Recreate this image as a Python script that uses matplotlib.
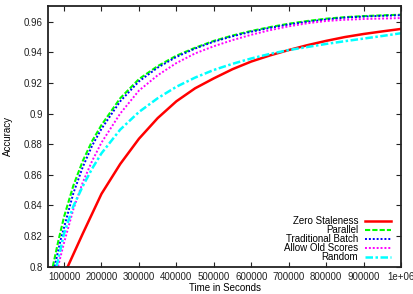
import matplotlib
matplotlib.use('Agg')
import matplotlib.pyplot as plt

plt.rcParams['font.family'] = ['Liberation Sans', 'DejaVu Sans']

# time in seconds / accuracy
t_zero = [110000, 150000, 200000, 250000, 300000, 350000, 400000, 450000, 500000, 550000,
          600000, 650000, 700000, 750000, 800000, 850000, 900000, 950000, 1000000]
acc_zero = [0.800, 0.8215, 0.8475, 0.867, 0.8835, 0.897, 0.908, 0.9165, 0.923, 0.929,
            0.934, 0.938, 0.9415, 0.9447, 0.9475, 0.950, 0.952, 0.9537, 0.9553]

t_par = [70000, 85000, 100000, 125000, 150000, 175000, 200000, 250000, 300000, 350000,
         400000, 450000, 500000, 550000, 600000, 650000, 700000, 750000, 800000, 850000,
         900000, 950000, 1000000]
acc_par = [0.800, 0.817, 0.8325, 0.853, 0.869, 0.882, 0.8925, 0.910, 0.9225, 0.931,
           0.9378, 0.943, 0.9475, 0.951, 0.954, 0.9565, 0.9587, 0.9605, 0.962, 0.963,
           0.9637, 0.9642, 0.9646]

t_batch = [75000, 90000, 100000, 125000, 150000, 175000, 200000, 250000, 300000, 350000,
           400000, 450000, 500000, 550000, 600000, 650000, 700000, 750000, 800000, 850000,
           900000, 950000, 1000000]
acc_batch = [0.800, 0.8165, 0.8255, 0.848, 0.865, 0.879, 0.890, 0.908, 0.921, 0.930,
             0.937, 0.9425, 0.947, 0.9505, 0.9535, 0.956, 0.9582, 0.96, 0.9615, 0.9627,
             0.9634, 0.9639, 0.9643]

t_old = [84000, 100000, 125000, 150000, 175000, 200000, 250000, 300000, 350000, 400000,
         450000, 500000, 550000, 600000, 650000, 700000, 750000, 800000, 850000, 900000,
         950000, 1000000]
acc_old = [0.800, 0.8155, 0.8375, 0.855, 0.869, 0.881, 0.900, 0.915, 0.925, 0.933,
           0.9393, 0.944, 0.948, 0.9515, 0.9545, 0.957, 0.959, 0.9605, 0.9613, 0.9618,
           0.9621, 0.9624]

t_rand = [80000, 100000, 125000, 150000, 175000, 200000, 250000, 300000, 350000, 400000,
          450000, 500000, 550000, 600000, 650000, 700000, 750000, 800000, 850000, 900000,
          950000, 1000000]
acc_rand = [0.800, 0.8215, 0.8395, 0.8525, 0.864, 0.874, 0.8895, 0.901, 0.910, 0.9175,
            0.9235, 0.9285, 0.9325, 0.936, 0.939, 0.9415, 0.9435, 0.9455, 0.9473, 0.949,
            0.9507, 0.9525]

labels = ['Zero Staleness', 'Parallel', 'Traditional Batch', 'Allow Old Scores', 'Random']

xticks = [100000, 200000, 300000, 400000, 500000, 600000, 700000, 800000, 900000, 1000000]
xtick_labels = ['100000', '200000', '300000', '400000', '500000', '600000', '700000',
                '800000', '900000', '1e+06']
yticks = [0.8, 0.82, 0.84, 0.86, 0.88, 0.9, 0.92, 0.94, 0.96]
ytick_labels = ['0.8', '0.82', '0.84', '0.86', '0.88', '0.9', '0.92', '0.94', '0.96']

fig = plt.figure(figsize=(4.14, 2.94), dpi=100)
ax = fig.add_axes([0.1167, 0.0935, 0.852, 0.8861])

ax.plot(t_zero, acc_zero, color='#ff0000', lw=1.8, ls='-', label=labels[0])
ax.plot(t_par, acc_par, color='#00ff00', lw=1.5, ls=(0, (2.5, 1)), label=labels[1])
ax.plot(t_batch, acc_batch, color='#0000ff', lw=1.4, ls=(0, (1, 1)), label=labels[2])
ax.plot(t_old, acc_old, color='#ff00ff', lw=1.4, ls=(0, (1, 1)), label=labels[3])
ax.plot(t_rand, acc_rand, color='#00ffff', lw=1.8, ls=(0, (3, 1, 1, 1)), label=labels[4])

ax.set_xlim(58000, 1000000)
ax.set_ylim(0.8, 0.9703)
ax.set_xticks(xticks)
ax.set_xticklabels(xtick_labels)
ax.set_yticks(yticks)
ax.set_yticklabels(ytick_labels)
ax.tick_params(direction='in', length=3.5, width=0.8, labelsize=7, top=True, right=True,
               colors='#222222', pad=4)
for s in ax.spines.values():
    s.set_linewidth(1.3)
    s.set_color('#222222')

ax.set_xlabel('Time in Seconds', fontsize=7, labelpad=1)
ax.set_ylabel('Accuracy', fontsize=7, labelpad=8)

ax.legend(loc='lower right', bbox_to_anchor=(0.985, 0.0), frameon=False, fontsize=7,
          markerfirst=False, handlelength=2.7, handletextpad=0.7, labelspacing=-0.1,
          borderaxespad=0.05)

fig.savefig('out.png', dpi=100)
